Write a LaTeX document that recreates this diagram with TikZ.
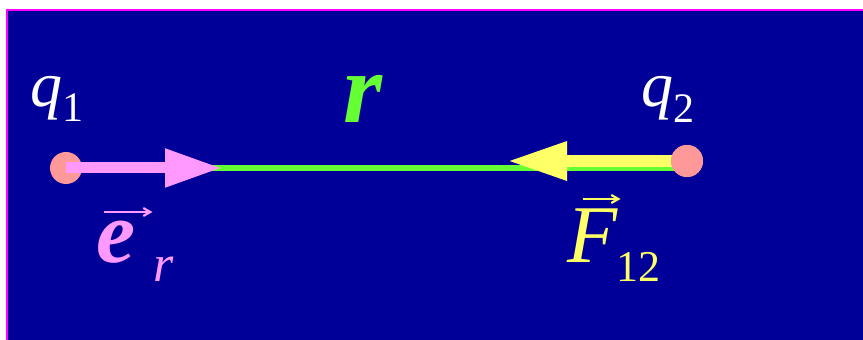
\documentclass[tikz,border=0pt]{standalone}
\usepackage{fontspec}
\setmainfont{Liberation Serif}
\usepackage{tikz}
\usetikzlibrary{arrows.meta}
\definecolor{bgblue}{RGB}{0,0,153}
\definecolor{edgemagenta}{RGB}{255,0,255}
\definecolor{chargesalmon}{RGB}{255,153,153}
\definecolor{unitpink}{RGB}{255,153,255}
\definecolor{distgreen}{RGB}{102,255,51}
\definecolor{forceyellow}{RGB}{255,255,102}
\newcommand{\lowsub}[3]{\raisebox{-#1}{\fontsize{#2}{#2}\selectfont #3}}
% #1 shift, #2 length, #3 raise, #4 letter
\newcommand{\vecover}[4]{\rlap{\hspace{#1}\raisebox{#3}{\tikz[baseline=0pt]\draw[vecstroke] (0,0) -- (#2,0);}}#4}
\pgfdeclarelayer{lines}
\pgfsetlayers{lines,main}

\begin{document}
\begin{tikzpicture}[
  x=0.5pt, y=-0.5pt,
  vecstroke/.style={line width=1.1pt, -{Straight Barb[length=3.5pt,width=4pt]}},
  charge/.style={circle, fill=chargesalmon, minimum size=16pt, inner sep=0pt},
  lbl/.style={inner sep=0pt, anchor=base west},
  qlbl/.style={lbl, text=white, font=\fontsize{32}{36}\selectfont},
  unitarrow/.style={draw=unitpink, line width=5.5pt, -{Triangle[length=28.5pt,width=18pt]}},
  forcearrow/.style={draw=forceyellow, line width=6pt, -{Triangle[length=30pt,width=18pt]}},
  distline/.style={draw=distgreen, line width=3pt}
]
\useasboundingbox (0,0) rectangle (863,340);
\begin{pgfonlayer}{lines}
\fill[white] (0,0) rectangle (863,340);
\draw[edgemagenta, line width=1pt, fill=bgblue] (7,10) rectangle (880,360);
\end{pgfonlayer}

% charges
\node[charge] (q1) at (66,168) {};
\node[charge] (q2) at (687,161) {};
\coordinate (ertip) at (222,168);
\coordinate (ftip) at (507,161);

% connectors
\begin{pgfonlayer}{lines}
\draw[distline] (q1.center) -- (q1.center -| q2.center);
\draw[forcearrow] (q2.center) -- (ftip);
\end{pgfonlayer}
\draw[unitarrow] (q1.center) -- (ertip);
\node[charge] at (q2) {};

% labels
\node[qlbl] (q1lbl) at (30,107) {\textit{q}\lowsub{7.5pt}{21}{1}};
\node[qlbl] (q2lbl) at (641,107) {\textit{q}\lowsub{8pt}{21}{2}};
\node[lbl, text=distgreen, font=\fontsize{50}{56}\selectfont\bfseries\itshape] (rlbl) at (343,123) {r};
\node[lbl, text=unitpink, font=\fontsize{44}{50}\selectfont] (erlbl) at (96,263)
  {\vecover{3pt}{24.5pt}{25.5pt}{\textbf{\textit{e}}}\hspace{9pt}\lowsub{9.5pt}{26}{\itshape r}};
\node[lbl, text=forceyellow, font=\fontsize{41}{46}\selectfont] (flbl) at (567,263)
  {\vecover{7pt}{19pt}{32pt}{\textit{F}}\hspace{-1pt}\lowsub{9.5pt}{22}{12}};
\end{tikzpicture}
\end{document}
